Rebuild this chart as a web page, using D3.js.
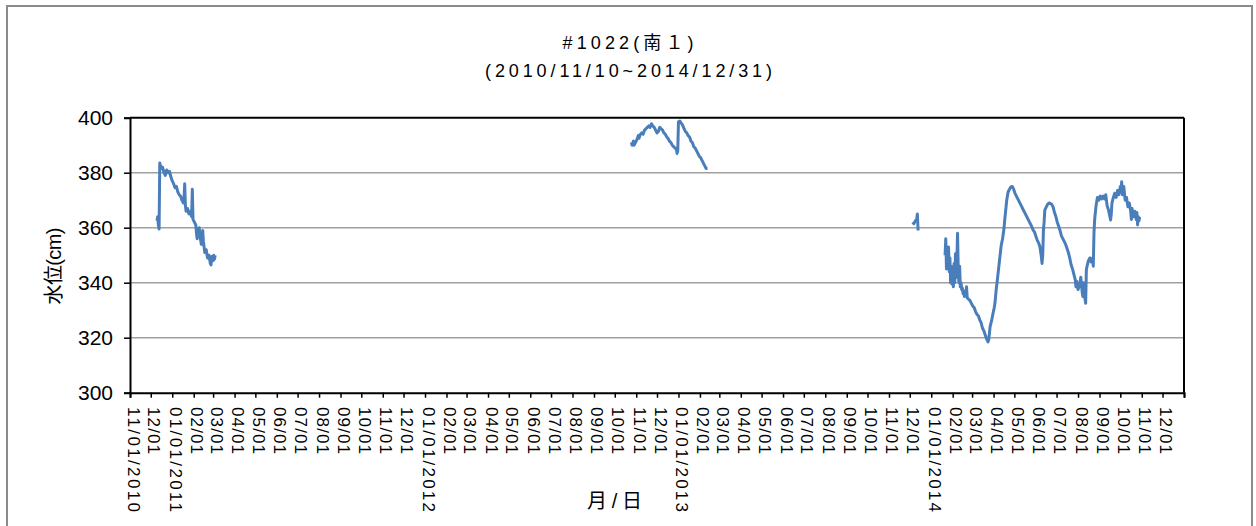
<!DOCTYPE html>
<html>
<head>
<meta charset="utf-8">
<script src="https://cdn.jsdelivr.net/npm/d3@7"></script>
<style>
  html, body { margin: 0; padding: 0; background: #fff; }
  svg { display: block; }
  text { font-family: "Liberation Sans", Arial, "Noto Sans CJK JP", sans-serif; fill: #000; }
</style>
</head>
<body>
<script>
// Water level readings (cm) for well #1022, split into the recorded periods.
const period1 = [
  ["2010-12-10", 362.5], ["2010-12-11", 364], ["2010-12-12", 361], ["2010-12-13", 359.5],
  ["2010-12-14", 383.5], ["2010-12-16", 381.5], ["2010-12-18", 382], ["2010-12-20", 380],
  ["2010-12-22", 379], ["2010-12-24", 381], ["2010-12-26", 380], ["2010-12-28", 380.5],
  ["2010-12-30", 378.5], ["2011-01-01", 377], ["2011-01-03", 376], ["2011-01-05", 374.5],
  ["2011-01-07", 375], ["2011-01-09", 373], ["2011-01-11", 372], ["2011-01-13", 371.5],
  ["2011-01-15", 370], ["2011-01-17", 369], ["2011-01-18", 370.5], ["2011-01-19", 376],
  ["2011-01-20", 368], ["2011-01-21", 366], ["2011-01-23", 367], ["2011-01-25", 365],
  ["2011-01-27", 366], ["2011-01-29", 364], ["2011-01-30", 374], ["2011-01-31", 363],
  ["2011-02-02", 362], ["2011-02-04", 361], ["2011-02-05", 358], ["2011-02-06", 356],
  ["2011-02-07", 359], ["2011-02-09", 360], ["2011-02-10", 357], ["2011-02-12", 354],
  ["2011-02-13", 356], ["2011-02-14", 359], ["2011-02-15", 355], ["2011-02-17", 351],
  ["2011-02-19", 352], ["2011-02-21", 349], ["2011-02-23", 350], ["2011-02-25", 347],
  ["2011-02-26", 346.5], ["2011-02-27", 349.5], ["2011-03-01", 348], ["2011-03-02", 350],
  ["2011-03-03", 348.5], ["2011-03-04", 350]
];

const period2 = [
  ["2012-10-25", 391], ["2012-10-26", 390], ["2012-10-28", 391.5], ["2012-10-29", 390],
  ["2012-10-31", 391], ["2012-11-02", 392], ["2012-11-04", 393.5], ["2012-11-05", 392.5],
  ["2012-11-07", 394], ["2012-11-09", 394.5], ["2012-11-11", 394], ["2012-11-13", 395.5],
  ["2012-11-15", 396], ["2012-11-17", 396.5], ["2012-11-19", 397], ["2012-11-21", 396.5],
  ["2012-11-23", 397.8], ["2012-11-25", 397], ["2012-11-27", 396.5], ["2012-11-29", 395.5],
  ["2012-12-01", 394.5], ["2012-12-03", 395], ["2012-12-05", 396.5], ["2012-12-07", 396],
  ["2012-12-09", 395.5], ["2012-12-11", 394.5], ["2012-12-13", 394], ["2012-12-15", 393],
  ["2012-12-17", 392.5], ["2012-12-19", 391.5], ["2012-12-21", 391], ["2012-12-23", 390],
  ["2012-12-25", 389.5], ["2012-12-27", 389], ["2012-12-29", 388.5], ["2012-12-30", 387],
  ["2012-12-31", 388], ["2013-01-01", 398.5], ["2013-01-03", 398.8], ["2013-01-05", 398],
  ["2013-01-07", 397.3], ["2013-01-09", 396], ["2013-01-11", 395], ["2013-01-13", 394.5],
  ["2013-01-15", 393.5], ["2013-01-17", 393], ["2013-01-19", 391.5], ["2013-01-21", 391],
  ["2013-01-23", 389.5], ["2013-01-25", 389], ["2013-01-27", 388], ["2013-01-29", 387],
  ["2013-01-31", 386], ["2013-02-02", 385.5], ["2013-02-04", 384.5], ["2013-02-06", 383.5],
  ["2013-02-08", 382.5], ["2013-02-10", 381.5], ["2013-02-12", 381.5]
];

const period3 = [
  ["2013-12-05", 362], ["2013-12-07", 361.5], ["2013-12-09", 362.5], ["2013-12-11", 363],
  ["2013-12-12", 365], ["2013-12-13", 359]
];

const period4 = [
  ["2014-01-21", 350], ["2014-01-22", 356], ["2014-01-23", 345], ["2014-01-24", 352],
  ["2014-01-25", 346], ["2014-01-26", 353], ["2014-01-27", 344], ["2014-01-28", 349],
  ["2014-01-29", 340], ["2014-01-30", 346], ["2014-01-31", 339.5], ["2014-02-01", 344],
  ["2014-02-02", 338.5], ["2014-02-03", 347], ["2014-02-04", 340], ["2014-02-05", 350.5],
  ["2014-02-06", 342], ["2014-02-07", 348], ["2014-02-08", 358], ["2014-02-09", 345],
  ["2014-02-10", 340], ["2014-02-11", 346], ["2014-02-12", 338.5], ["2014-02-13", 340],
  ["2014-02-14", 337.5], ["2014-02-15", 338], ["2014-02-16", 336], ["2014-02-17", 337],
  ["2014-02-18", 335], ["2014-02-20", 335.5], ["2014-02-21", 338.5], ["2014-02-22", 334.5],
  ["2014-02-24", 334], ["2014-02-26", 333.5], ["2014-02-28", 332.5], ["2014-03-02", 331.5],
  ["2014-03-04", 331], ["2014-03-06", 329.5], ["2014-03-08", 328.5], ["2014-03-10", 328],
  ["2014-03-12", 326.5], ["2014-03-14", 325.5], ["2014-03-16", 323.5], ["2014-03-18", 322.5],
  ["2014-03-20", 321], ["2014-03-22", 319.5], ["2014-03-24", 318.5], ["2014-03-25", 319.2],
  ["2014-03-26", 321.5], ["2014-03-27", 324], ["2014-03-29", 326], ["2014-03-31", 328.5],
  ["2014-04-02", 331], ["2014-04-03", 332.5], ["2014-04-05", 338], ["2014-04-06", 340],
  ["2014-04-08", 344.5], ["2014-04-10", 349], ["2014-04-12", 353.5], ["2014-04-14", 356],
  ["2014-04-16", 359.5], ["2014-04-17", 362.5], ["2014-04-19", 367.5], ["2014-04-20", 370],
  ["2014-04-22", 373], ["2014-04-24", 374], ["2014-04-26", 374.8], ["2014-04-28", 375],
  ["2014-04-30", 374], ["2014-05-02", 372.5], ["2014-05-04", 371.5], ["2014-05-06", 370.5],
  ["2014-05-08", 369.5], ["2014-05-10", 368.5], ["2014-05-12", 367.5], ["2014-05-14", 366.4],
  ["2014-05-16", 365.5], ["2014-05-18", 364.5], ["2014-05-20", 363.5], ["2014-05-22", 362.5],
  ["2014-05-24", 361.5], ["2014-05-26", 360.5], ["2014-05-28", 359.2], ["2014-05-30", 358.5],
  ["2014-06-01", 357], ["2014-06-03", 355.5], ["2014-06-05", 354.5], ["2014-06-07", 353],
  ["2014-06-09", 349.5], ["2014-06-10", 347], ["2014-06-11", 350], ["2014-06-12", 359],
  ["2014-06-13", 362], ["2014-06-14", 366.4], ["2014-06-16", 367.5], ["2014-06-18", 368.5],
  ["2014-06-20", 369], ["2014-06-22", 368.8], ["2014-06-24", 368.5], ["2014-06-26", 367.5],
  ["2014-06-28", 365.5], ["2014-06-30", 364], ["2014-07-02", 362], ["2014-07-04", 360.5],
  ["2014-07-06", 359], ["2014-07-08", 357], ["2014-07-10", 356], ["2014-07-12", 355],
  ["2014-07-14", 354], ["2014-07-16", 352.5], ["2014-07-18", 351], ["2014-07-20", 349],
  ["2014-07-22", 346.5], ["2014-07-24", 345], ["2014-07-26", 343], ["2014-07-28", 341],
  ["2014-07-29", 338.5], ["2014-07-30", 340.5], ["2014-08-01", 337.5], ["2014-08-03", 339],
  ["2014-08-05", 342], ["2014-08-07", 336.5], ["2014-08-08", 335], ["2014-08-09", 340],
  ["2014-08-10", 336], ["2014-08-12", 332.5], ["2014-08-13", 344.6], ["2014-08-14", 346],
  ["2014-08-16", 348], ["2014-08-18", 349], ["2014-08-20", 347.5], ["2014-08-22", 349],
  ["2014-08-23", 346], ["2014-08-24", 358], ["2014-08-25", 363], ["2014-08-27", 368],
  ["2014-08-29", 371], ["2014-08-31", 370], ["2014-09-02", 371.5], ["2014-09-04", 370.5],
  ["2014-09-06", 371.5], ["2014-09-08", 370.5], ["2014-09-10", 372], ["2014-09-12", 368],
  ["2014-09-14", 366.4], ["2014-09-16", 364], ["2014-09-17", 362.8], ["2014-09-18", 365],
  ["2014-09-19", 369], ["2014-09-21", 371], ["2014-09-23", 372.5], ["2014-09-25", 371],
  ["2014-09-27", 373.5], ["2014-09-29", 372], ["2014-10-01", 375], ["2014-10-02", 373],
  ["2014-10-03", 376.7], ["2014-10-04", 372], ["2014-10-06", 375], ["2014-10-08", 370],
  ["2014-10-10", 371], ["2014-10-12", 367.6], ["2014-10-14", 369], ["2014-10-16", 366],
  ["2014-10-17", 363], ["2014-10-18", 367], ["2014-10-20", 364], ["2014-10-22", 366],
  ["2014-10-24", 363], ["2014-10-25", 365.5], ["2014-10-26", 361], ["2014-10-27", 364],
  ["2014-10-28", 362.5], ["2014-10-29", 364]
];

const periods = [period1, period2, period3, period4];

const yTicks = [300, 320, 340, 360, 380, 400];
const gridValues = [320, 340, 360, 380];
const axisStart = "2010-11-01";
const axisEnd = "2015-01-01";

const titleLine1 = "#1022(南１)";
const titleLine2 = "(2010/11/10~2014/12/31)";
const yTitle = "水位(cm)";
const xTitle = "月/日";

// ---- layout ----
const W = 1256, H = 526;
const plot = { left: 130, right: 1184, top: 117.7, bottom: 392.7 };

const parse = d3.utcParse("%Y-%m-%d");
const x = d3.scaleUtc()
  .domain([parse(axisStart), parse(axisEnd)])
  .range([plot.left, plot.right]);
const y = d3.scaleLinear()
  .domain([300, 400])
  .range([plot.bottom, plot.top]);

const svg = d3.select("body").append("svg")
  .attr("width", W).attr("height", H);

// chart area border
svg.append("rect")
  .attr("x", 7).attr("y", 6)
  .attr("width", 1245).attr("height", 540)
  .attr("fill", "none")
  .attr("stroke", "#8a8a8a")
  .attr("stroke-width", 2);

// titles
svg.append("text")
  .attr("x", 628).attr("y", 49)
  .attr("text-anchor", "middle")
  .attr("font-size", 18)
  .attr("textLength", 131).attr("lengthAdjust", "spacing")
  .text(titleLine1);
svg.append("text")
  .attr("x", 628.5).attr("y", 77)
  .attr("text-anchor", "middle")
  .attr("font-size", 18)
  .attr("textLength", 287).attr("lengthAdjust", "spacing")
  .text(titleLine2);

// horizontal gridlines
svg.append("g").selectAll("line")
  .data(gridValues)
  .join("line")
  .attr("x1", plot.left).attr("x2", plot.right)
  .attr("y1", d => y(d)).attr("y2", d => y(d))
  .attr("stroke", "#a0a0a0")
  .attr("stroke-width", 1.6);

// water level series, one path per recorded period
const line = d3.line()
  .x(d => x(parse(d[0])))
  .y(d => y(d[1]));
svg.append("g").selectAll("path")
  .data(periods)
  .join("path")
  .attr("d", line)
  .attr("fill", "none")
  .attr("stroke", "#4a7ebb")
  .attr("stroke-width", 3)
  .attr("stroke-linejoin", "round");

// plot frame
const frame = svg.append("g").attr("stroke", "#000").attr("stroke-width", 2);
frame.append("line").attr("x1", plot.left).attr("x2", plot.right)
  .attr("y1", plot.top).attr("y2", plot.top);
frame.append("line").attr("x1", plot.right).attr("x2", plot.right)
  .attr("y1", plot.top).attr("y2", plot.bottom);

// y axis
const yAxis = d3.axisLeft(y)
  .tickValues(yTicks)
  .tickSize(6)
  .tickPadding(11)
  .tickFormat(d3.format("d"));
const yg = svg.append("g")
  .attr("transform", `translate(${plot.left},0)`)
  .call(yAxis);
yg.select(".domain").attr("stroke", "#000").attr("stroke-width", 2);
yg.selectAll(".tick line").attr("stroke", "#000").attr("stroke-width", 1.5);
yg.selectAll(".tick text")
  .attr("font-size", 21)
  .attr("font-family", "'Liberation Sans', Arial, sans-serif")
  .attr("fill", "#000");

// x axis: one tick per month
const months = d3.utcMonth.range(parse(axisStart), parse(axisEnd));
const xAxis = d3.axisBottom(x)
  .tickValues(months.concat([parse(axisEnd)]))
  .tickSize(5)
  .tickFormat("");
const xg = svg.append("g")
  .attr("transform", `translate(0,${plot.bottom})`)
  .call(xAxis);
xg.select(".domain").attr("stroke", "#000").attr("stroke-width", 2);
xg.selectAll(".tick line").attr("stroke", "#000").attr("stroke-width", 1.5);

const fmtShort = d3.utcFormat("%m/%d");
const fmtLong = d3.utcFormat("%m/%d/%Y");
svg.append("g").selectAll("text")
  .data(months)
  .join("text")
  .attr("transform", d => `translate(${x(d) - 2.5},407) rotate(90)`)
  .attr("font-size", 17)
  .attr("lengthAdjust", "spacing")
  .attr("textLength", (d, i) => (i === 0 || d.getUTCMonth() === 0) ? 105 : 47)
  .text((d, i) => (i === 0 || d.getUTCMonth() === 0) ? fmtLong(d) : fmtShort(d));

// axis titles
svg.append("text")
  .attr("transform", "translate(61,266) rotate(-90)")
  .attr("text-anchor", "middle")
  .attr("font-size", 20)
  .attr("textLength", 77).attr("lengthAdjust", "spacing")
  .text(yTitle);
svg.append("text")
  .attr("x", 614.5).attr("y", 508)
  .attr("text-anchor", "middle")
  .attr("font-size", 20)
  .attr("textLength", 55).attr("lengthAdjust", "spacing")
  .text(xTitle);
</script>
</body>
</html>
